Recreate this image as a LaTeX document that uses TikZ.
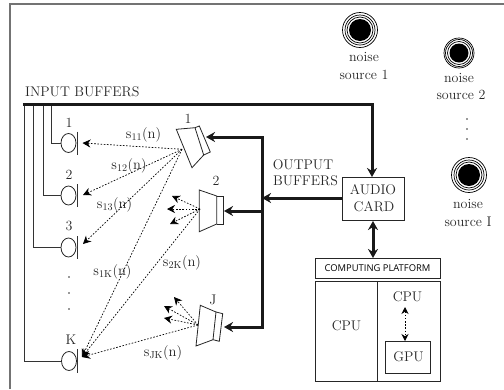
\documentclass[tikz,border=0pt]{standalone}
\usepackage{fontspec}
\newfontfamily\cpfont{Open Sans}
\usetikzlibrary{arrows.meta,shapes.geometric}
\tikzset{
 frameline/.style={draw=black!55,line width=1.1pt},
 wire/.style={draw=black!80,line width=0.9pt},
 bus/.style={draw=black!90,line width=3pt},
 busarrow/.style={bus,-{Stealth[length=9pt,width=10pt]}},
 busboth/.style={bus,{Stealth[length=9pt,width=10pt]}-{Stealth[length=9pt,width=10pt]}},
 ray/.style={draw=black,line width=0.7pt,dash pattern=on 1.6pt off 1.6pt,-{Stealth[length=8pt,width=8pt]}},
 spk/.style={draw=black!85,line width=0.8pt,line join=miter},
 box/.style={draw=black!85,line width=0.9pt,inner sep=0pt,anchor=north west},
 mic/.style={ellipse,draw=black!85,line width=0.8pt,minimum width=15pt,minimum height=19pt,inner sep=0pt},
 lab/.style={inner sep=0pt,font=\fontsize{14}{16}\selectfont,text=black!85},
 sig/.style={lab,font=\fontsize{14.5}{16}\selectfont},
 dotlab/.style={circle,fill=black!80,minimum size=1.6pt,inner sep=0pt},
 disc/.style={circle,fill=black,inner sep=0pt},
 ring/.style={circle,draw=black,line width=0.7pt,fill=white,inner sep=0pt},
}
\begin{document}
\begin{tikzpicture}[x=1pt,y=-1pt]
\useasboundingbox (0,0) rectangle (504,389);
% frame
\coordinate (fa) at (10,389); \coordinate (fb) at (10,4); \coordinate (fc) at (504,4);
\draw[frameline] (fa) -- (fb) -- (fc);
% mics
\node[mic] (m1) at (68.5,143) {};
\node[mic] (m2) at (68.5,195.5) {};
\node[mic] (m3) at (68.5,247.5) {};
\node[mic] (mK) at (69,361) {};
\foreach \n/\y in {1/143,2/195.5,3/247.5}{
 \coordinate (bt\n) at (77,\y-11.5); \coordinate (bb\n) at (77,\y+11.5);
 \draw[wire] (bt\n) -- (bb\n);
}
\coordinate (btK) at (77.5,349); \coordinate (bbK) at (77.5,373);
\draw[wire] (btK) -- (bbK);
\node[lab] (l1) at (69,123) {1};
\node[lab] (l2) at (69,175) {2};
\node[lab] (l3) at (69,226) {3};
\node[lab] (lK) at (71,340) {K};
\node[dotlab] (d1) at (69,277) {};
\node[dotlab] (d2) at (69,293) {};
\node[dotlab] (d3) at (69,309) {};
% input buffers
\node[lab,anchor=west] (ib) at (25,92) {INPUT BUFFERS};
\coordinate (b0) at (24,104); \coordinate (b1) at (33.5,104); \coordinate (b2) at (43.5,104); \coordinate (b3) at (51,104);
\coordinate (bc) at (372,104);
\draw[wire] (b0) |- (mK.west);
\draw[wire] (b1) |- (m3.west);
\draw[wire] (b2) |- (m2.west);
\draw[wire] (b3) |- (m1.west);
% audio card
\node[box,minimum width=62pt,minimum height=43pt] (ac) at (342,177) {};
\node[lab] (ac1) at (373,190) {AUDIO};
\node[lab] (ac2) at (374,207) {CARD};
\coordinate (acin) at (372,177);
\draw[bus,line join=miter,-{Stealth[length=9pt,width=10pt]}] (22.8,104) -- (bc) -- (acin);
% output
\node[lab] (ob1) at (303,165) {OUTPUT};
\node[lab] (ob2) at (305.5,181) {BUFFERS};
\coordinate (jt) at (262,137); \coordinate (jm) at (262,198); \coordinate (j2) at (262,211); \coordinate (jb) at (262,327);
\coordinate (s1in) at (206,137); \coordinate (s2in) at (224,211); \coordinate (sJin) at (224,327);
\coordinate (acout) at (342,198);
\draw[busarrow] (acout) -- (jm);
\draw[busarrow,line join=miter] (jb) -- (jt) -- (s1in);
\draw[busarrow] (j2) -- (s2in);
\draw[busarrow,line join=miter] (jm) -- (jb) -- (sJin);
% speakers
\draw[spk] (176.3,129.3) -- (195,127.7) -- (203.7,155) -- (192,167.7) -- cycle;
\draw[spk] (195,127.7) -- (199.3,126) -- (210.3,152) -- (203.7,155);
\draw[spk] (199.3,190) -- (216.7,196) -- (216.7,224) -- (199.3,231.7) -- cycle;
\draw[spk] (216.7,196) -- (223,196) -- (223,224) -- (216.7,224);
\draw[spk] (200.3,305.3) -- (216,312) -- (213,339.7) -- (196,346) -- cycle;
\draw[spk] (216,312) -- (222.7,313.7) -- (219.3,341.3) -- (213,339.7);
\node[lab] (sl1) at (188,119) {1};
\node[lab] (sl2) at (216,181) {2};
\node[lab] (slJ) at (213,300) {J};
% rays
\coordinate (o1) at (182,149.3); \coordinate (o2) at (200,209); \coordinate (oJ) at (198,325);
\coordinate (t1) at (82.5,143); \coordinate (t2) at (83,195); \coordinate (t3) at (83,244); \coordinate (tK) at (82,357);
\draw[ray] (o1) -- (t1);
\draw[ray] (o1) -- (t2);
\draw[ray] (o1) -- (t3);
\draw[ray] (o1) -- (tK);
\draw[ray] (o2) -- (tK);
\draw[ray] (oJ) -- (tK);
\coordinate (a1) at (172,196); \coordinate (a2) at (167,209); \coordinate (a3) at (170,224);
\coordinate (c1) at (174,297); \coordinate (c2) at (164,306); \coordinate (c3) at (164,318);
\foreach \t in {a1,a2,a3}{\draw[ray] (o2) -- (\t);}
\foreach \t in {c1,c2,c3}{\draw[ray] (oJ) -- (\t);}
% signal labels
\node[sig] (s11) at (143.5,135) {s\textsubscript{11}(n)};
\node[sig] (s12) at (129,166) {s\textsubscript{12}(n)};
\node[sig] (s13) at (114.5,205) {s\textsubscript{13}(n)};
\node[sig] (s1K) at (112.5,272) {s\textsubscript{1K}(n)};
\node[sig] (s2K) at (182,263) {s\textsubscript{2K}(n)};
\node[sig] (sJK) at (163,353) {s\textsubscript{JK}(n)};
% computing platform
\node[box,minimum width=125pt,minimum height=20pt] (cp) at (315,258) {};
\node[inner sep=0pt,font=\cpfont\fontsize{9.4}{11}\selectfont,text=black] (cpt) at (377.5,268) {COMPUTING PLATFORM};
\draw[busboth] (373,221) -- (373,258);
\node[box,minimum width=62pt,minimum height=100pt] (cl) at (315,281) {};
\node[box,minimum width=63pt,minimum height=100pt] (cr) at (377,281) {};
\node[lab] (cpu1) at (346.5,326) {CPU};
\node[lab] (cpu2) at (407.5,296.5) {CPU};
\node[box,minimum width=45pt,minimum height=32pt] (gb) at (385,341) {};
\node[lab] (gpu) at (408.5,357) {GPU};
\coordinate (cpb) at (405,307);
\draw[draw=black,line width=0.8pt,dash pattern=on 1.6pt off 1.6pt,{Stealth[length=7pt,width=7pt]}-{Stealth[length=7pt,width=7pt]}] (cpb) -- (gb.north -| cpb);
% noise sources
\foreach \nm/\x/\y/\ro/\rd in {n1/360/30/35/22, n2/459/53/30/19, nI/469/175/35/22}{
 \node[ring,minimum size=\ro pt] (\nm a) at (\x,\y) {};
 \node[ring,minimum size=\rd pt+8pt] (\nm b) at (\x,\y) {};
 \node[ring,minimum size=\rd pt+4pt] (\nm c) at (\x,\y) {};
 \node[disc,minimum size=\rd pt] (\nm d) at (\x,\y) {};
}
\node[lab] (t1a) at (364,57) {noise};
\node[lab] (t1b) at (364,75) {source 1};
\node[lab] (t2a) at (459,78) {noise};
\node[lab] (t2b) at (461,95) {source 2};
\node[lab] (tIa) at (468,204) {noise};
\node[lab] (tIb) at (468,222) {source I};
\node[dotlab] (e1) at (467,119) {};
\node[dotlab] (e2) at (467,129) {};
\node[dotlab] (e3) at (467,139) {};
\end{tikzpicture}
\end{document}
